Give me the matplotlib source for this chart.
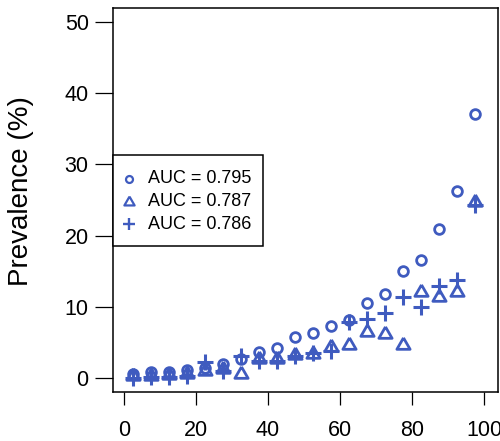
import numpy as np
import matplotlib
matplotlib.use('Agg')
import matplotlib.pyplot as plt
import matplotlib.patches as patches

plt.rcParams['font.family'] = ['Liberation Sans', 'DejaVu Sans']

# ventile midpoints of predicted risk (%)
risk_bins = [2.5, 7.5, 12.5, 17.5, 22.5, 27.5, 32.5, 37.5, 42.5, 47.5,
             52.5, 57.5, 62.5, 67.5, 72.5, 77.5, 82.5, 87.5, 92.5, 97.5]

# observed prevalence (%) for each model
prev_795 = [0.6, 0.75, 0.85, 1.1, 1.4, 1.9, 2.6, 3.6, 4.2, 5.7,
            6.3, 7.3, 8.1, 10.5, 11.8, 15.0, 16.5, 20.9, 26.3, 37.1]
prev_787 = [0.2, 0.3, 0.4, 0.6, 1.0, 1.2, 0.5, 2.6, 2.7, 3.2,
            3.4, 4.3, 4.6, 6.5, 6.2, 4.6, 12.0, 11.3, 12.0, 24.7]
prev_786 = [0.0, 0.1, 0.1, 0.2, 2.2, 1.0, 3.0, 2.3, 2.4, 3.0,
            3.5, 3.8, 7.8, 8.3, 9.1, 11.3, 9.9, 12.9, 13.7, 24.3]

auc_labels = ['AUC = 0.795', 'AUC = 0.787', 'AUC = 0.786']
x_ticks = [0, 20, 40, 60, 80, 100]
y_ticks = [0, 10, 20, 30, 40, 50]

blue = '#3F5BBF'

# R-style triangle (pch = 2), centroid on the point
tri = [(0, 1.555), (1.347, -0.778), (-1.347, -0.778), (0, 1.555)]

styles = [dict(marker='o', ms=7, mew=2.0, mfc='none'),
          dict(marker=tri, ms=11, mew=2.0, mfc='none'),
          dict(marker='+', ms=11, mew=2.2)]
# legend keys are drawn a bit smaller
key_styles = [dict(marker='o', ms=5, mew=1.6, mfc='none'),
              dict(marker=tri, ms=8.5, mew=1.6, mfc='none'),
              dict(marker='+', ms=9, mew=1.7)]

fig = plt.figure(figsize=(5.0, 4.41), dpi=100)
ax = fig.add_axes([0.226, 0.111, 0.770, 0.871])

for yv, st in zip([prev_795, prev_787, prev_786], styles):
    ax.plot(risk_bins, yv, ls='none', mec=blue, **st)

ax.set_xlim(-3.05, 103.9)
ax.set_ylim(-2, 52)
ax.set_xticks(x_ticks)
ax.set_yticks(y_ticks)
ax.tick_params(axis='x', direction='out', length=9.5, width=0.9,
               labelsize=15.5, pad=10.5)
ax.tick_params(axis='y', direction='out', length=13, width=0.9,
               labelsize=15.5, pad=4.5)
ax.set_ylabel('Prevalence (%)', fontsize=20)
ax.yaxis.set_label_coords(-0.205, 0.523)

for s in ax.spines.values():
    s.set_linewidth(1.1)
    s.set_color('black')

# legend box drawn by hand (R legend look)
box = patches.Rectangle((0, 0.380), 0.39, 0.237, transform=ax.transAxes,
                        facecolor='white', edgecolor='black', lw=1.1,
                        zorder=5, clip_on=False)
ax.add_patch(box)
row_y = [0.555, 0.495, 0.437]
for ry, lab, st in zip(row_y, auc_labels, key_styles):
    ax.plot([0.042], [ry], transform=ax.transAxes, ls='none', mec=blue,
            zorder=6, clip_on=False, **st)
    ax.text(0.091, ry, lab, transform=ax.transAxes, fontsize=13,
            va='center', ha='left', zorder=6)

plt.savefig('out.png', dpi=100)
